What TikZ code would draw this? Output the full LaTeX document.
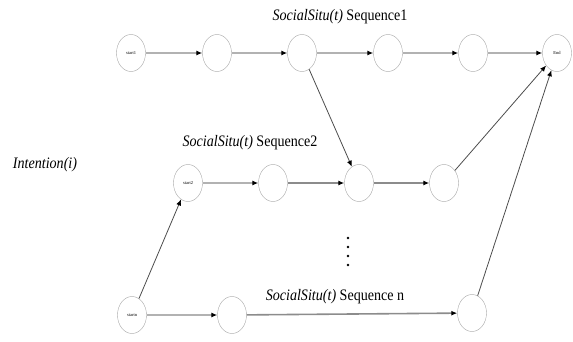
\documentclass[tikz,border=0pt]{standalone}
\usepackage{fontspec}
\setmainfont{Liberation Serif}
\usetikzlibrary{shapes.geometric,arrows.meta,positioning}
\tikzset{
  state/.style={
    shape = ellipse,
    draw = black!35,
    fill = white,
    minimum width = 29pt,
    minimum height = 37pt,
    inner sep = 0pt,
    font = \fontsize{4.5}{5}\selectfont
  },
  flow/.style={
    draw = black!30,
    line width = 1.3pt,
    -{Latex[color=black,length=6pt,width=5pt]}
  },
  heavy/.style={
    flow,
    draw = black!45,
    line width = 1.6pt
  },
  link/.style={
    draw = black!70,
    line width = 0.8pt,
    -{Latex[color=black,length=6pt,width=5pt]}
  },
  seq/.style={
    font = \fontsize{16}{17}\selectfont,
    xscale = 0.88,
    inner sep = 1pt
  },
}

\begin{document}
\begin{tikzpicture}[x=1pt,y=-1pt]
  \useasboundingbox (0,0) rectangle (573,341);
  % sequence 1
  \node[state] (s1) at (131,53) {start1};
  \foreach \i/\x in {2/217,3/302,4/388,5/473}{
    \node[state] (a\i) at (\x,53) {};
  }
  \node[state] (end) at (557,53) {End};
  \draw[flow] (s1) -- (a2);
  \draw[flow] (a2) -- (a3);
  \draw[flow] (a3) -- (a4);
  \draw[flow] (a4) -- (a5);
  \draw[flow] (a5) -- (end);
  \node[seq] at (340,17) {\textit{SocialSitu(t)} Sequence1};
  % sequence 2
  \node[state] (s2) at (188,183) {start2};
  \foreach \i/\x in {2/273,3/359,4/444}{
    \node[state] (b\i) at (\x,183) {};
  }
  \draw[flow] (s2) -- (b2);
  \draw[heavy] (b2) -- (b3);
  \draw[heavy] (b3) -- (b4);
  \draw[link] (a3) -- (b3);
  \draw[link] (b4) -- (end);
  \node[seq] at (250,143) {\textit{SocialSitu(t)} Sequence2};
  % sequence n
  \node[state] (sn) at (132,315) {startn};
  \node[state] (c2) at (232,315) {};
  \node[state] (c3) at (472,313) {};
  \draw[flow] (sn) -- (c2);
  \draw[heavy] (c2) -- (c3);
  \draw[link] (sn) -- (s2);
  \draw[link] (c3) -- (end);
  \node[seq] at (335,297) {\textit{SocialSitu(t)} Sequence n};
  % dots and intention
  \foreach \y in {238,247,256,265}{
    \fill (348,\y) circle (1.4pt);
  }
  \node[seq] (intent) at (45,165) {\textit{Intention(i)}};
\end{tikzpicture}
\end{document}
